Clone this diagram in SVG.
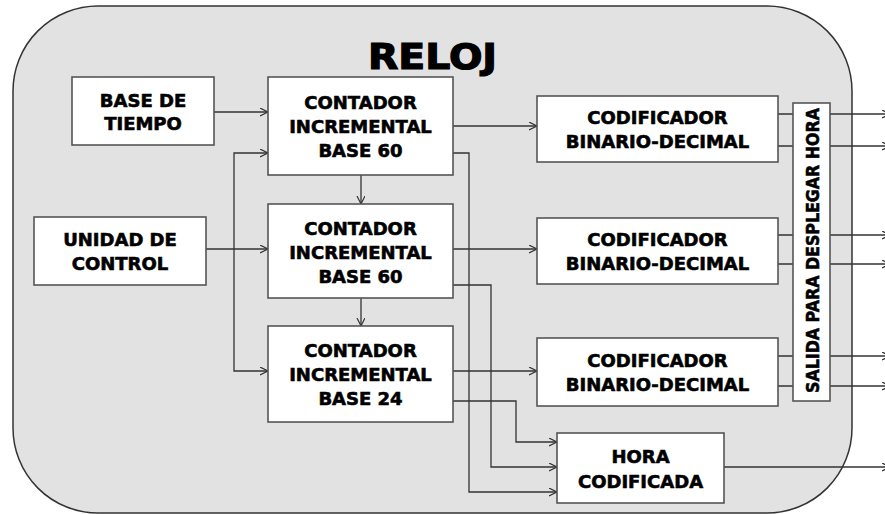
<svg xmlns="http://www.w3.org/2000/svg" width="885" height="514" viewBox="0 0 885 514">
  <defs>
    <marker id="arrow" markerWidth="10" markerHeight="10" refX="8" refY="4" orient="auto" markerUnits="userSpaceOnUse">
      <path d="M0,0 L8,4 L0,8" fill="none" stroke="#333" stroke-width="1.2"/>
    </marker>
    <style>
      .frame { fill: #e2e2e2; stroke: #333; stroke-width: 1.5; }
      .box { fill: #fff; stroke: #555; stroke-width: 1.6; }
      .lbl { font-family: "DejaVu Sans", "Liberation Sans", sans-serif; font-weight: bold; font-size: 18px; fill: #000; stroke: #000; stroke-width: 0.6; text-anchor: middle; }
      .title { font-size: 35px; stroke-width: 1.2; }
      .wire { fill: none; stroke: #333; stroke-width: 1.3; }
      .arr { marker-end: url(#arrow); }
    </style>
  </defs>

  <rect width="885" height="514" fill="#fff"/>

  <!-- Clock enclosure -->
  <g id="reloj">
    <rect class="frame" x="13" y="6" width="839" height="507" rx="85" ry="85"/>
    <text class="lbl title" x="432.5" y="69" textLength="129" lengthAdjust="spacingAndGlyphs">RELOJ</text>
  </g>

  <!-- Connectors -->
  <g id="connectors">
    <!-- time base into first counter -->
    <path class="wire arr" d="M214,112 H268"/>
    <!-- control unit trunk -->
    <path class="wire arr" d="M234,249 V153 H268"/>
    <path class="wire arr" d="M234,249 V371 H268"/>
    <path class="wire arr" d="M206,249 H268"/>
    <!-- carry between counters -->
    <path class="wire arr" d="M361,175 V204"/>
    <path class="wire arr" d="M361,298 V326"/>
    <!-- counters to decoders -->
    <path class="wire arr" d="M453,126 H537"/>
    <path class="wire arr" d="M453,249 H537"/>
    <path class="wire arr" d="M453,371 H537"/>
    <!-- counters to encoded time -->
    <path class="wire arr" d="M453,153 H469 V492 H557"/>
    <path class="wire arr" d="M453,285 H491 V467 H557"/>
    <path class="wire arr" d="M453,401 H516 V442 H557"/>
    <!-- decoders to display output -->
    <path class="wire" d="M778,114 H793 M778,146 H793"/>
    <path class="wire" d="M778,235 H793 M778,264 H793"/>
    <path class="wire" d="M778,356 H793 M778,386 H793"/>
    <!-- external outputs -->
    <path class="wire arr" d="M830,114 H890"/>
    <path class="wire arr" d="M830,146 H890"/>
    <path class="wire arr" d="M830,235 H890"/>
    <path class="wire arr" d="M830,264 H890"/>
    <path class="wire arr" d="M830,356 H890"/>
    <path class="wire arr" d="M830,386 H890"/>
    <path class="wire arr" d="M724,467 H890"/>
  </g>

  <g id="base-tiempo">
    <rect class="box" x="72" y="77" width="142" height="68"/>
    <text class="lbl" x="143" y="107">BASE DE</text>
    <text class="lbl" x="143" y="130">TIEMPO</text>
  </g>

  <g id="unidad-control">
    <rect class="box" x="34" y="217" width="172" height="68"/>
    <text class="lbl" x="120" y="246">UNIDAD DE</text>
    <text class="lbl" x="120" y="270">CONTROL</text>
  </g>

  <g id="contador-segundos">
    <rect class="box" x="268" y="77" width="185" height="98"/>
    <text class="lbl" x="360.5" y="109">CONTADOR</text>
    <text class="lbl" x="360.5" y="133">INCREMENTAL</text>
    <text class="lbl" x="360.5" y="157">BASE 60</text>
  </g>

  <g id="contador-minutos">
    <rect class="box" x="268" y="204" width="185" height="94"/>
    <text class="lbl" x="360.5" y="235">CONTADOR</text>
    <text class="lbl" x="360.5" y="259">INCREMENTAL</text>
    <text class="lbl" x="360.5" y="283">BASE 60</text>
  </g>

  <g id="contador-horas">
    <rect class="box" x="268" y="326" width="185" height="96"/>
    <text class="lbl" x="360.5" y="357">CONTADOR</text>
    <text class="lbl" x="360.5" y="381">INCREMENTAL</text>
    <text class="lbl" x="360.5" y="405">BASE 24</text>
  </g>

  <g id="codificador-1">
    <rect class="box" x="537" y="96" width="241" height="66"/>
    <text class="lbl" x="657.5" y="124">CODIFICADOR</text>
    <text class="lbl" x="657.5" y="148">BINARIO-DECIMAL</text>
  </g>

  <g id="codificador-2">
    <rect class="box" x="537" y="218" width="241" height="66"/>
    <text class="lbl" x="657.5" y="246">CODIFICADOR</text>
    <text class="lbl" x="657.5" y="270">BINARIO-DECIMAL</text>
  </g>

  <g id="codificador-3">
    <rect class="box" x="537" y="338" width="241" height="68"/>
    <text class="lbl" x="657.5" y="367">CODIFICADOR</text>
    <text class="lbl" x="657.5" y="391">BINARIO-DECIMAL</text>
  </g>

  <g id="salida">
    <rect class="box" x="793" y="103" width="37" height="298"/>
    <text class="lbl" transform="translate(818.5,250.5) rotate(-90)" x="0" y="0" textLength="285" lengthAdjust="spacingAndGlyphs">SALIDA PARA DESPLEGAR HORA</text>
  </g>

  <g id="hora-codificada">
    <rect class="box" x="557" y="433" width="167" height="70"/>
    <text class="lbl" x="640.5" y="463">HORA</text>
    <text class="lbl" x="640.5" y="488">CODIFICADA</text>
  </g>
</svg>
